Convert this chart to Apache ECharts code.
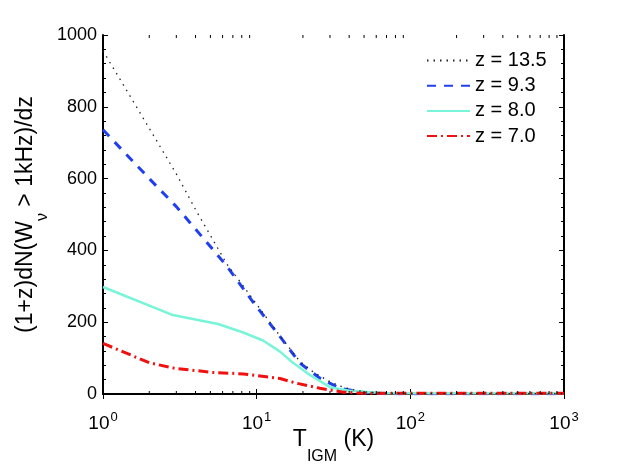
<!DOCTYPE html>
<html>
<head>
<meta charset="utf-8">
<script src="https://cdn.jsdelivr.net/npm/echarts@6/dist/echarts.min.js"></script>
<style>html,body{margin:0;padding:0;background:#fff;}#c{width:623px;height:469px;}</style>
</head>
<body>
<div id="c"></div>
<script>
// Series names
var seriesNames = ['z = 13.5', 'z = 9.3', 'z = 8.0', 'z = 7.0'];
// z = 13.5 (dotted)
var xZ135 = [1, 2, 3, 4.07, 6.4, 10, 14, 19, 23.2, 30, 37.6, 50, 70, 100, 1000];
var yZ135 = [956, 740, 613, 508, 362, 250, 165, 92, 62, 34, 17, 6, 2, 1, 1];
// z = 9.3 (dashed)
var xZ93 = [1, 2, 3, 5.2, 6.4, 9.75, 14.2, 19.1, 25.8, 34.8, 50, 70, 100, 1000];
var yZ93 = [736, 600, 522, 402, 356, 249, 160, 86, 44, 16, 4, 1, 1, 1];
// z = 8.0 (solid)
var xZ80 = [1, 2.8, 5.6, 8.1, 11, 14.2, 16.9, 22.2, 30, 40, 70, 1000];
var yZ80 = [298, 221, 195, 172, 149, 118, 90, 53, 19, 9, 2, 2];
// z = 7.0 (dash-dot)
var xZ70 = [1, 2, 2.9, 5.2, 8.2, 14.2, 18.2, 25.8, 36.6, 50, 1000];
var yZ70 = [141, 87, 72, 60, 56, 43, 30, 16, 5, 2, 2];
// Axis ticks
var yTicks = [0, 200, 400, 600, 800, 1000];
var xMinorTicks = [2,3,4,5,6,7,8,9,20,30,40,50,60,70,80,90,200,300,400,500,600,700,800,900];

function pairs(xs, ys) { return xs.map(function (x, i) { return [x, ys[i]]; }); }

var FONT = "'Liberation Sans', Arial, Helvetica, sans-serif";
var chart = echarts.init(document.getElementById('c'), null, {renderer: 'canvas'});

function xLabel(v) {
  var e = Math.round(Math.log(v) / Math.LN10);
  return '{b|10}{s|' + e + '}';
}

var axisLineStyle = {show: true, lineStyle: {color: '#000', width: 2}};

var option = {
  animation: false,
  backgroundColor: '#fff',
  textStyle: {fontFamily: FONT},
  grid: {left: 103, right: 59, top: 35, bottom: 75, containLabel: false, outerBoundsMode: 'none'},
  legend: {
    orient: 'vertical',
    left: 426,
    top: 50.5,
    padding: 0,
    itemWidth: 43,
    itemHeight: 18,
    itemGap: 5.2,
    data: seriesNames,
    itemStyle: {opacity: 0},
    textStyle: {fontFamily: FONT, fontSize: 20, color: '#000'},
    backgroundColor: 'transparent'
  },
  xAxis: [{
    type: 'log', logBase: 10, min: 1, max: 1000, position: 'bottom',
    axisLine: axisLineStyle,
    axisTick: {show: true, inside: true, length: 5, lineStyle: {color: '#000', width: 1}},
    splitLine: {show: false},
    axisLabel: {
      formatter: xLabel, margin: 17, color: '#000',
      rich: {
        b: {fontFamily: FONT, fontSize: 19, color: '#000', lineHeight: 22, verticalAlign: 'bottom'},
        s: {fontFamily: FONT, fontSize: 13, color: '#000', lineHeight: 14, verticalAlign: 'top', padding: [0, 0, 0, 1]}
      }
    },
    name: 'T{sub|IGM} (K)',
    nameLocation: 'middle',
    nameGap: 21,
    nameMoveOverlap: false,
    nameTextStyle: {
      fontFamily: FONT, fontSize: 23, color: '#000', lineHeight: 50,
      rich: {sub: {fontFamily: FONT, fontSize: 16, color: '#000', verticalAlign: 'bottom', lineHeight: 18}}
    }
  }, {
    type: 'log', logBase: 10, min: 1, max: 1000, position: 'top',
    axisLine: axisLineStyle,
    axisTick: {show: true, inside: true, length: 5, lineStyle: {color: '#000', width: 1}},
    axisLabel: {show: false},
    splitLine: {show: false}
  }],
  yAxis: [{
    type: 'value', min: 0, max: 1000, interval: 200, position: 'left',
    axisLine: axisLineStyle,
    axisTick: {show: true, inside: true, length: 5, lineStyle: {color: '#000', width: 1}},
    minorTick: {show: true, splitNumber: 5, length: 3, lineStyle: {color: '#000', width: 1}},
    splitLine: {show: false},
    axisLabel: {
      margin: 6, color: '#000', fontFamily: FONT, fontSize: 18,
      formatter: function (v) { return yTicks.indexOf(v) >= 0 ? String(v) : ''; }
    },
    name: '(1+z)dN(W{sub|ν} > 1kHz)/dz',
    nameLocation: 'middle',
    nameGap: 52,
    nameMoveOverlap: false,
    nameRotate: 90,
    nameTextStyle: {
      fontFamily: FONT, fontSize: 23, color: '#000', lineHeight: 50,
      rich: {sub: {fontFamily: FONT, fontSize: 16, color: '#000', verticalAlign: 'bottom', lineHeight: 28}}
    }
  }, {
    type: 'value', min: 0, max: 1000, interval: 200, position: 'right',
    axisLine: axisLineStyle,
    axisTick: {show: true, inside: true, length: 5, lineStyle: {color: '#000', width: 1}},
    minorTick: {show: true, splitNumber: 5, length: 3, lineStyle: {color: '#000', width: 1}},
    splitLine: {show: false},
    axisLabel: {show: false}
  }],
  series: [
    {
      name: 'xMinorTicks', type: 'custom', xAxisIndex: 0, yAxisIndex: 0,
      silent: true, clip: false, z: 5,
      data: xMinorTicks.map(function (v) { return [v, 0]; }),
      encode: {x: 0, y: 1},
      renderItem: function (params, api) {
        var x = api.value(0);
        var b = api.coord([x, 0]);
        var t = api.coord([x, 1000]);
        var st = {stroke: '#000', lineWidth: 1};
        return {type: 'group', children: [
          {type: 'line', shape: {x1: b[0], y1: b[1], x2: b[0], y2: b[1] - 3}, style: st},
          {type: 'line', shape: {x1: t[0], y1: t[1], x2: t[0], y2: t[1] + 3}, style: st}
        ]};
      }
    },
    {
      name: seriesNames[0], type: 'line', data: pairs(xZ135, yZ135),
      symbol: 'none', showSymbol: false, z: 3,
      lineStyle: {color: '#222', width: 1.3, type: [1.5, 5]},
      itemStyle: {color: '#222'}
    },
    {
      name: seriesNames[1], type: 'line', data: pairs(xZ93, yZ93),
      symbol: 'none', showSymbol: false, z: 2,
      lineStyle: {color: '#2040f0', width: 3, type: [9, 8]},
      itemStyle: {color: '#2040f0'}
    },
    {
      name: seriesNames[2], type: 'line', data: pairs(xZ80, yZ80),
      symbol: 'none', showSymbol: false, z: 2,
      lineStyle: {color: '#78f5d8', width: 2.5, type: 'solid'},
      itemStyle: {color: '#78f5d8'}
    },
    {
      name: seriesNames[3], type: 'line', data: pairs(xZ70, yZ70),
      symbol: 'none', showSymbol: false, z: 2,
      lineStyle: {color: '#f01010', width: 3, type: [10, 4, 2, 4]},
      itemStyle: {color: '#f01010'}
    }
  ]
};
chart.setOption(option);
</script>
</body>
</html>
